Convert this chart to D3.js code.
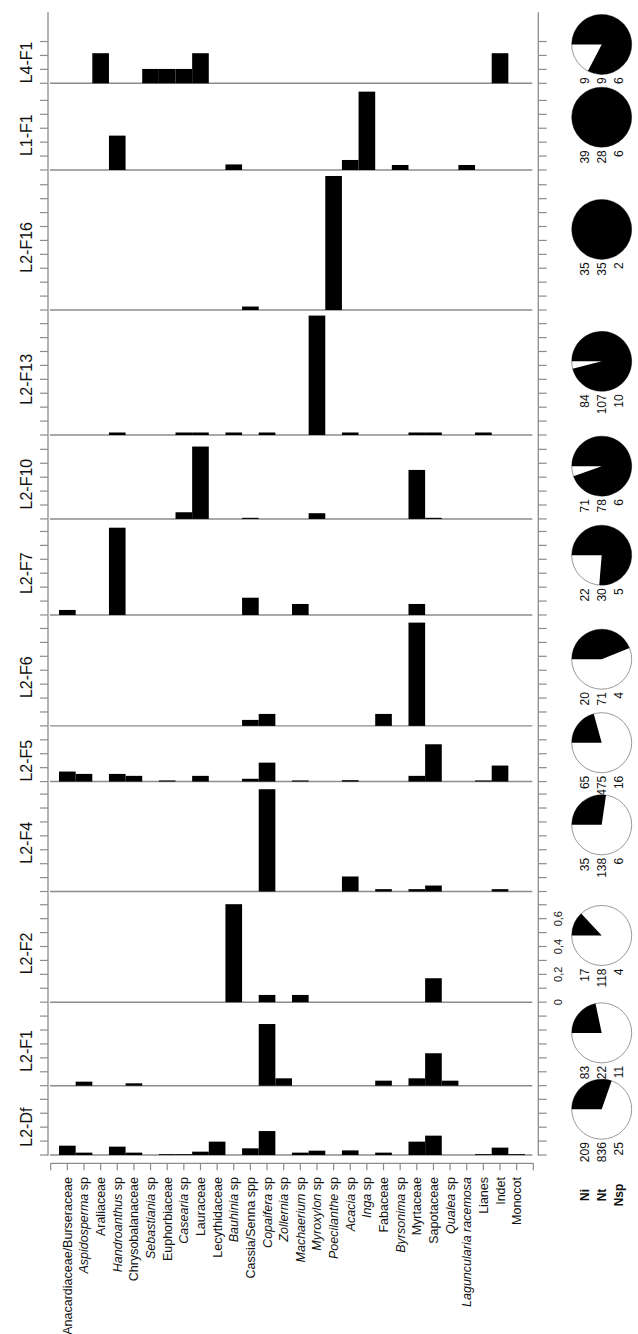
<!DOCTYPE html>
<html><head><meta charset="utf-8">
<script src="https://cdn.jsdelivr.net/npm/d3@7"></script>
<style>body{margin:0;background:#fff}svg{display:block}</style>
</head><body>
<svg id="c" width="638" height="1334"></svg>
<script>
// ---------- DATA ----------
const categories = ["Anacardiaceae/Burseraceae","Aspidosperma sp","Araliaceae","Handroanthus sp","Chrysobalanaceae","Sebastiania sp","Euphorbiaceae","Casearia sp","Lauraceae","Lecythidaceae","Bauhinia sp","Cassia/Senna spp","Copaifera sp","Zollernia sp","Machaerium sp","Myroxylon sp","Poecilanthe sp","Acacia sp","Inga sp","Fabaceae","Byrsonima sp","Myrtaceae","Sapotaceae","Qualea sp","Laguncularia racemosa","Lianes","Indet","Monocot"];
const italicCategories = ["Aspidosperma sp","Handroanthus sp","Sebastiania sp","Casearia sp","Bauhinia sp","Copaifera sp","Zollernia sp","Machaerium sp","Myroxylon sp","Poecilanthe sp","Acacia sp","Inga sp","Byrsonima sp","Qualea sp","Laguncularia racemosa"];
const panels = ["L4-F1","L1-F1","L2-F16","L2-F13","L2-F10","L2-F7","L2-F6","L2-F5","L2-F4","L2-F2","L2-F1","L2-Df"];
const panelSpan = [0.51,0.623,1.006,0.898,0.603,0.69,0.797,0.40,0.79,0.795,0.60,0.498];
const panelTickMax = [0.3,0.5,0.9,0.8,0.5,0.6,0.7,0.3,0.7,0.7,0.5,0.4];
//            Ana  Asp  Ara  Han  Chr  Seb  Eup  Cas  Lau  Lec  Bau  C/S  Cop  Zol  Mac  Myr  Poe  Aca  Inga Fab  Byr  Myrt Sap  Qua  Lag  Lia  Ind  Mon
const vL4F1  = [0,   0,   .216,0,   0,   .103,.103,.103,.216,0,   0,   0,   0,   0,   0,   0,   0,   0,   0,   0,   0,   0,   0,   0,   0,   0,   .216,0];
const vL1F1  = [0,   0,   0,   .247,0,   0,   0,   0,   0,   0,   .04, 0,   0,   0,   0,   0,   0,   .072,.563,0,   .036,0,   0,   0,   .036,0,   0,   0];
const vL2F16 = [0,   0,   0,   0,   0,   0,   0,   0,   0,   0,   0,   .025,0,   0,   0,   0,   .963,0,   0,   0,   0,   0,   0,   0,   0,   0,   0,   0];
const vL2F13 = [0,   0,   0,   .018,0,   0,   0,   .018,.018,0,   .018,0,   .018,0,   0,   .858,0,   .018,0,   0,   0,   .018,.018,0,   0,   .018,0,   0];
const vL2F10 = [0,   0,   0,   0,   0,   0,   0,   .048,.52, 0,   0,   .008,0,   0,   0,   .041,0,   0,   0,   0,   0,   .352,.008,0,   0,   0,   0,   0];
const vL2F7  = [.036,0,   0,   .627,0,   0,   0,   0,   0,   0,   0,   .124,0,   0,   .079,0,   0,   0,   0,   0,   0,   .079,0,   0,   0,   0,   0,   0];
const vL2F6  = [0,   0,   0,   0,   0,   0,   0,   0,   0,   0,   0,   .043,.086,0,   0,   0,   0,   0,   0,   .086,0,   .742,0,   0,   0,   0,   0,   0];
const vL2F5  = [.072,.055,0,   .055,.041,0,   .008,0,   .041,0,   0,   .02, .136,0,   .008,0,   0,   .01, 0,   0,   0,   .041,.268,0,   0,   .008,.115,0];
const vL2F4  = [0,   0,   0,   0,   0,   0,   0,   0,   0,   0,   0,   0,   .735,0,   0,   0,   0,   .108,0,   .017,0,   .017,.043,0,   0,   0,   .017,0];
const vL2F2  = [0,   0,   0,   0,   0,   0,   0,   0,   0,   0,   .704,0,   .052,0,   .052,0,   0,   0,   0,   0,   0,   0,   .172,0,   0,   0,   0,   0];
const vL2F1  = [0,   .029,0,   0,   .017,0,   0,   0,   0,   0,   0,   0,   .443,.053,0,   0,   0,   0,   0,   .036,0,   .053,.233,.036,0,   0,   0,   0];
const vL2Df  = [.067,.017,0,   .06, .017,0,   .006,.006,.024,.096,0,   .048,.172,0,   .017,.031,0,   .033,0,   .017,0,   .096,.139,0,   0,   .006,.053,.006];
const panelValues = [vL4F1,vL1F1,vL2F16,vL2F13,vL2F10,vL2F7,vL2F6,vL2F5,vL2F4,vL2F2,vL2F1,vL2Df];
const pieFraction = [0.826,1,1,0.96,0.945,0.763,0.439,0.207,0.273,0.13,0.217,0.304];
const Ni  = [9,39,35,84,71,22,20,65,35,17,83,209];
const Nt  = [9,28,35,107,78,30,71,475,138,118,422,836];
const Nsp = [6,6,2,10,6,5,4,16,6,4,11,25];
const countLabels = ["Ni","Nt","Nsp"];
const tickLabelValues = [0,0.2,0.4,0.6];
const tickLabelPanel = "L2-F2";

// ---------- DRAW ----------
const svg = d3.select("#c");
const grey = "#8c8c8c";
const font = "'Liberation Sans', Arial, sans-serif";

const x = d3.scaleLinear().domain([0, categories.length + 1]).range([50.7, 533.3]);
const bw = x(1) - x(0);
const total = d3.sum(panelSpan);
const y = d3.scaleLinear().domain([0, total]).range([1155, 12.3]);
// offset of each panel = sum of spans of the panels drawn below it
const offsets = panels.map((p, i) => d3.sum(panelSpan.slice(i + 1)));

const leftX = 48, rightX = 538.3;
// vertical axes
[leftX, rightX].forEach(ax => {
  svg.append("line").attr("x1", ax).attr("x2", ax).attr("y1", y(total)).attr("y2", y(0) + 0.7)
    .attr("stroke", grey).attr("stroke-width", 1.3);
});

panels.forEach((name, p) => {
  const off = offsets[p];
  const g = svg.append("g");
  const base = y(off);
  // baseline
  g.append("line").attr("x1", 50).attr("x2", 532.3).attr("y1", base).attr("y2", base)
    .attr("stroke", grey).attr("stroke-width", 1.4);
  // bars
  g.selectAll("rect").data(panelValues[p].map((v, i) => ({v, i})).filter(d => d.v > 0))
    .join("rect")
    .attr("x", d => x(d.i + 1) - bw / 2)
    .attr("width", bw)
    .attr("y", d => y(off + d.v))
    .attr("height", d => base - y(off + d.v))
    .attr("fill", "#000");
  // ticks
  const ticks = d3.range(0, panelTickMax[p] + 0.001, 0.1);
  ticks.forEach(t => {
    const ty = y(off + t);
    g.append("line").attr("x1", leftX - 8).attr("x2", leftX).attr("y1", ty).attr("y2", ty)
      .attr("stroke", grey).attr("stroke-width", 1.2);
    g.append("line").attr("x1", rightX).attr("x2", rightX + 8.4).attr("y1", ty).attr("y2", ty)
      .attr("stroke", grey).attr("stroke-width", 1.2);
  });
  if (name === tickLabelPanel) {
    tickLabelValues.forEach(t => {
      g.append("text").attr("transform", `translate(${rightX + 20},${y(off + t)}) rotate(-90)`)
        .attr("text-anchor", "middle").attr("dy", "0.35em")
        .attr("font-family", font).attr("font-size", 11).attr("fill", "#222")
        .text(d3.format(".1~f")(t).replace(".", ","));
    });
  }
  // panel label
  const mid = y(off + panelTickMax[p] / 2);
  g.append("text").attr("transform", `translate(26,${mid}) rotate(-90)`)
    .attr("text-anchor", "middle").attr("dy", "0.36em")
    .attr("font-family", font).attr("font-size", 16).attr("fill", "#111")
    .text(name);
  // pie
  const cy = mid - 18, cx = 601.7, r = 30;
  const start = -Math.PI / 2;
  const arc = d3.arc().innerRadius(0).outerRadius(r);
  const pg = g.append("g").attr("transform", `translate(${cx},${cy})`);
  const f = pieFraction[p];
  pg.append("circle").attr("r", r).attr("fill", "#fff").attr("stroke", "#9a9a9a").attr("stroke-width", 1);
  pg.append("path").attr("d", arc({startAngle: start, endAngle: start + 2 * Math.PI * f})).attr("fill", "#000");
  // counts
  [Ni[p], Nt[p], Nsp[p]].forEach((n, k) => {
    g.append("text").attr("transform", `translate(${cx - 17 + 17 * k},${cy + 33}) rotate(-90)`)
      .attr("text-anchor", "end").attr("dy", "0.36em")
      .attr("font-family", font).attr("font-size", 12).attr("fill", "#111")
      .text(n);
  });
});

// count legend
countLabels.forEach((t, k) => {
  svg.append("text").attr("transform", `translate(${601.7 - 17 + 17 * k},1195) rotate(-90)`)
    .attr("text-anchor", "middle").attr("dy", "0.36em")
    .attr("font-family", font).attr("font-size", 12).attr("font-weight", "bold").attr("fill", "#111")
    .text(t);
});

// bottom category axis
const axY = 1163.3;
svg.append("line").attr("x1", x(0)).attr("x2", x(categories.length + 1)).attr("y1", axY).attr("y2", axY)
  .attr("stroke", grey).attr("stroke-width", 1.3);
d3.range(0, categories.length + 2).forEach(i => {
  svg.append("line").attr("x1", x(i)).attr("x2", x(i)).attr("y1", axY).attr("y2", axY + 7)
    .attr("stroke", grey).attr("stroke-width", 1.2);
});
categories.forEach((c, i) => {
  const t = svg.append("text").attr("transform", `translate(${x(i + 1)},1177) rotate(-90)`)
    .attr("text-anchor", "end").attr("dy", "0.36em")
    .attr("font-family", font).attr("font-size", 12.5).attr("fill", "#111");
  if (italicCategories.includes(c)) {
    if (c.endsWith(" sp")) {
      t.append("tspan").attr("font-style", "italic").text(c.slice(0, -3));
      t.append("tspan").text(" sp");
    } else {
      t.append("tspan").attr("font-style", "italic").text(c);
    }
  } else {
    t.text(c);
  }
});
</script>
</body></html>
